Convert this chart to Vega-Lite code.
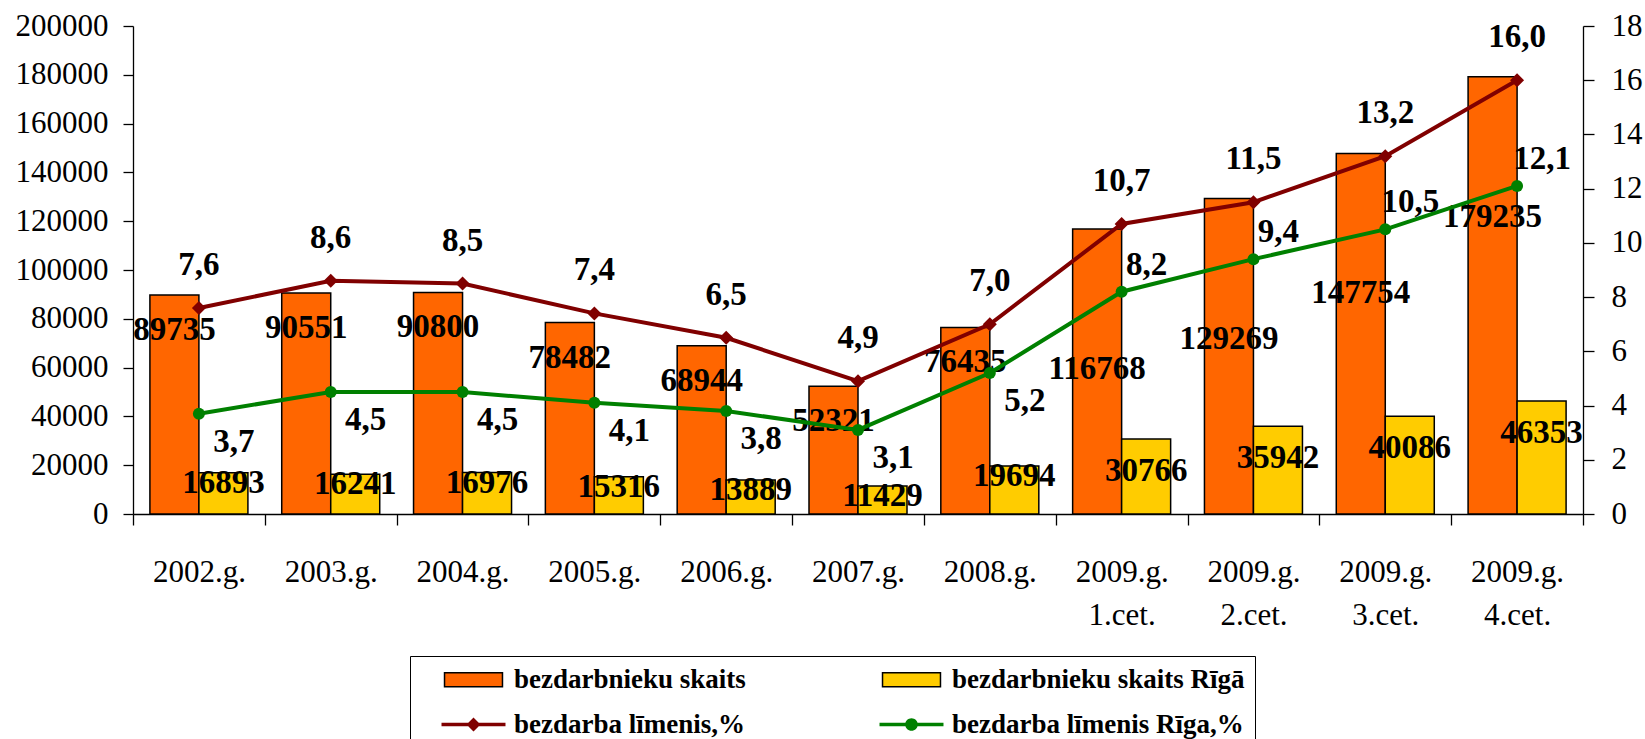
{
  "$schema": "https://vega.github.io/schema/vega-lite/v6.json",
  "width": 1450,
  "height": 488,
  "autosize": {"type": "none"},
  "padding": {"left": 133, "top": 26, "right": 62, "bottom": 225},
  "background": "white",
  "config": {
    "view": {"stroke": null},
    "font": "Liberation Serif",
    "locale": {"number": {"decimal": ",", "thousands": " ", "grouping": [3], "currency": ["", ""]}},
    "axis": {"labelFont": "Liberation Serif", "labelFontSize": 31, "labelColor": "#000", "domainColor": "#000", "tickColor": "#000", "domainWidth": 1.3, "tickWidth": 1.3, "grid": false, "title": null},
    "legend": {"symbolOpacity": 1}
  },
  "data": {"values": [
    {"cat": "2002.g.", "series": "bezdarbnieku skaits", "value": 89735},
    {"cat": "2003.g.", "series": "bezdarbnieku skaits", "value": 90551},
    {"cat": "2004.g.", "series": "bezdarbnieku skaits", "value": 90800},
    {"cat": "2005.g.", "series": "bezdarbnieku skaits", "value": 78482},
    {"cat": "2006.g.", "series": "bezdarbnieku skaits", "value": 68944},
    {"cat": "2007.g.", "series": "bezdarbnieku skaits", "value": 52321},
    {"cat": "2008.g.", "series": "bezdarbnieku skaits", "value": 76435},
    {"cat": "2009.g.|1.cet.", "series": "bezdarbnieku skaits", "value": 116768},
    {"cat": "2009.g.|2.cet.", "series": "bezdarbnieku skaits", "value": 129269},
    {"cat": "2009.g.|3.cet.", "series": "bezdarbnieku skaits", "value": 147754},
    {"cat": "2009.g.|4.cet.", "series": "bezdarbnieku skaits", "value": 179235},
    {"cat": "2002.g.", "series": "bezdarbnieku skaits Rīgā", "value": 16893},
    {"cat": "2003.g.", "series": "bezdarbnieku skaits Rīgā", "value": 16241},
    {"cat": "2004.g.", "series": "bezdarbnieku skaits Rīgā", "value": 16976},
    {"cat": "2005.g.", "series": "bezdarbnieku skaits Rīgā", "value": 15316},
    {"cat": "2006.g.", "series": "bezdarbnieku skaits Rīgā", "value": 13889},
    {"cat": "2007.g.", "series": "bezdarbnieku skaits Rīgā", "value": 11429},
    {"cat": "2008.g.", "series": "bezdarbnieku skaits Rīgā", "value": 19694},
    {"cat": "2009.g.|1.cet.", "series": "bezdarbnieku skaits Rīgā", "value": 30766},
    {"cat": "2009.g.|2.cet.", "series": "bezdarbnieku skaits Rīgā", "value": 35942},
    {"cat": "2009.g.|3.cet.", "series": "bezdarbnieku skaits Rīgā", "value": 40086},
    {"cat": "2009.g.|4.cet.", "series": "bezdarbnieku skaits Rīgā", "value": 46353},
    {"cat": "2002.g.", "series": "bezdarba līmenis,%", "value": 7.6},
    {"cat": "2003.g.", "series": "bezdarba līmenis,%", "value": 8.6},
    {"cat": "2004.g.", "series": "bezdarba līmenis,%", "value": 8.5},
    {"cat": "2005.g.", "series": "bezdarba līmenis,%", "value": 7.4},
    {"cat": "2006.g.", "series": "bezdarba līmenis,%", "value": 6.5},
    {"cat": "2007.g.", "series": "bezdarba līmenis,%", "value": 4.9},
    {"cat": "2008.g.", "series": "bezdarba līmenis,%", "value": 7.0},
    {"cat": "2009.g.|1.cet.", "series": "bezdarba līmenis,%", "value": 10.7},
    {"cat": "2009.g.|2.cet.", "series": "bezdarba līmenis,%", "value": 11.5},
    {"cat": "2009.g.|3.cet.", "series": "bezdarba līmenis,%", "value": 13.2},
    {"cat": "2009.g.|4.cet.", "series": "bezdarba līmenis,%", "value": 16.0},
    {"cat": "2002.g.", "series": "bezdarba līmenis Rīga,%", "value": 3.7},
    {"cat": "2003.g.", "series": "bezdarba līmenis Rīga,%", "value": 4.5},
    {"cat": "2004.g.", "series": "bezdarba līmenis Rīga,%", "value": 4.5},
    {"cat": "2005.g.", "series": "bezdarba līmenis Rīga,%", "value": 4.1},
    {"cat": "2006.g.", "series": "bezdarba līmenis Rīga,%", "value": 3.8},
    {"cat": "2007.g.", "series": "bezdarba līmenis Rīga,%", "value": 3.1},
    {"cat": "2008.g.", "series": "bezdarba līmenis Rīga,%", "value": 5.2},
    {"cat": "2009.g.|1.cet.", "series": "bezdarba līmenis Rīga,%", "value": 8.2},
    {"cat": "2009.g.|2.cet.", "series": "bezdarba līmenis Rīga,%", "value": 9.4},
    {"cat": "2009.g.|3.cet.", "series": "bezdarba līmenis Rīga,%", "value": 10.5},
    {"cat": "2009.g.|4.cet.", "series": "bezdarba līmenis Rīga,%", "value": 12.1}
  ]},
  "encoding": {
    "x": {
      "field": "cat", "type": "nominal",
      "scale": {"domain": ["2002.g.", "2003.g.", "2004.g.", "2005.g.", "2006.g.", "2007.g.", "2008.g.", "2009.g.|1.cet.", "2009.g.|2.cet.", "2009.g.|3.cet.", "2009.g.|4.cet."], "paddingInner": 0, "paddingOuter": 0},
      "axis": {"tickBand": "extent", "tickSize": 11, "labelPadding": 32, "labelLineHeight": 43, "labelAngle": 0, "labelBaseline": "top", "labelExpr": "split(datum.label, '|')", "labelLimit": 300}
    }
  },
  "layer": [
    {
      "encoding": {
        "y": {"field": "value", "type": "quantitative", "scale": {"domain": [0, 200000], "nice": false, "zero": true},
              "axis": {"orient": "left", "values": [0, 20000, 40000, 60000, 80000, 100000, 120000, 140000, 160000, 180000, 200000], "format": "d", "tickSize": 10, "labelPadding": 15}},
        "xOffset": {"field": "series", "type": "nominal", "scale": {"domain": ["bezdarbnieku skaits", "bezdarbnieku skaits Rīgā"], "paddingInner": 0, "paddingOuter": 0.345}}
      },
      "layer": [
        {
          "transform": [{"filter": "indexof(datum.series, 'skaits') >= 0"}],
          "mark": {"type": "bar", "strokeWidth": 1.5},
          "encoding": {
            "color": {
              "field": "series", "type": "nominal",
              "scale": {"domain": ["bezdarbnieku skaits", "bezdarbnieku skaits Rīgā", "bezdarba līmenis,%", "bezdarba līmenis Rīga,%"], "range": ["#FF6600", "#FFCC00", "#800000", "#008000"]},
              "legend": {
                "title": null, "orient": "none", "legendX": 277, "legendY": 630, "direction": "horizontal", "columns": 2,
                "columnPadding": 112, "rowPadding": 17, "padding": 10, "strokeColor": "#000",
                "symbolSize": 196, "symbolStrokeWidth": 1.5, "symbolOffset": 40, "labelOffset": 27,
                "labelFont": "Liberation Serif", "labelFontSize": 27, "labelFontWeight": "bold", "labelColor": "#000", "labelLimit": 600
              }
            },
            "stroke": {
              "field": "series", "type": "nominal",
              "scale": {"domain": ["bezdarbnieku skaits", "bezdarbnieku skaits Rīgā", "bezdarba līmenis,%", "bezdarba līmenis Rīga,%"], "range": ["#000000", "#000000", "transparent", "transparent"]},
              "legend": {
                "title": null, "orient": "none", "legendX": 277, "legendY": 630, "direction": "horizontal", "columns": 2,
                "columnPadding": 112, "rowPadding": 17, "padding": 10, "strokeColor": "#000",
                "symbolSize": 196, "symbolStrokeWidth": 1.5, "symbolOffset": 40, "labelOffset": 27,
                "labelFont": "Liberation Serif", "labelFontSize": 27, "labelFontWeight": "bold", "labelColor": "#000", "labelLimit": 600
              }
            }
          }
        },
        {
          "transform": [{"filter": "datum.series === 'bezdarbnieku skaits' && indexof(datum.cat, '|') < 0"}],
          "mark": {"type": "text", "font": "Liberation Serif", "fontWeight": "bold", "fontSize": 33, "baseline": "middle", "dy": 35, "color": "#000"},
          "encoding": {"text": {"field": "value", "type": "quantitative", "format": "d"}}
        },
        {
          "transform": [{"filter": "datum.series === 'bezdarbnieku skaits' && indexof(datum.cat, '|') >= 0"}],
          "mark": {"type": "text", "font": "Liberation Serif", "fontWeight": "bold", "fontSize": 33, "baseline": "middle", "dy": 140, "color": "#000"},
          "encoding": {"text": {"field": "value", "type": "quantitative", "format": "d"}}
        },
        {
          "transform": [{"filter": "datum.series === 'bezdarbnieku skaits Rīgā' && indexof(datum.cat, '|') < 0"}],
          "mark": {"type": "text", "font": "Liberation Serif", "fontWeight": "bold", "fontSize": 33, "baseline": "middle", "dy": 10, "color": "#000"},
          "encoding": {"text": {"field": "value", "type": "quantitative", "format": "d"}}
        },
        {
          "transform": [{"filter": "datum.series === 'bezdarbnieku skaits Rīgā' && indexof(datum.cat, '|') >= 0"}],
          "mark": {"type": "text", "font": "Liberation Serif", "fontWeight": "bold", "fontSize": 33, "baseline": "middle", "dy": 32, "color": "#000"},
          "encoding": {"text": {"field": "value", "type": "quantitative", "format": "d"}}
        }
      ]
    },
    {
      "encoding": {
        "y": {"field": "value", "type": "quantitative", "scale": {"domain": [0, 18], "nice": false, "zero": true},
              "axis": {"orient": "right", "values": [0, 2, 4, 6, 8, 10, 12, 14, 16, 18], "format": "d", "tickSize": 11, "labelPadding": 17}}
      },
      "layer": [
        {
          "transform": [{"filter": "indexof(datum.series, 'līmenis') >= 0"}],
          "mark": {"type": "point", "opacity": 0, "filled": true},
          "encoding": {
            "shape": {
              "field": "series", "type": "nominal",
              "scale": {"domain": ["bezdarbnieku skaits", "bezdarbnieku skaits Rīgā", "bezdarba līmenis,%", "bezdarba līmenis Rīga,%"],
                        "range": ["M-4.14,-1H4.14V1H-4.14Z", "M-4.14,-1H4.14V1H-4.14Z", "M-4.57,-0.25H4.57V0.25H-4.57Z M0,-1L1,0L0,1L-1,0Z", "M-4.57,-0.25H4.57V0.25H-4.57Z M0.9,0A0.9,0.9 0 1,1 -0.9,0A0.9,0.9 0 1,1 0.9,0Z"]},
              "legend": {
                "title": null, "orient": "none", "legendX": 277, "legendY": 630, "direction": "horizontal", "columns": 2,
                "columnPadding": 112, "rowPadding": 17, "padding": 10, "strokeColor": "#000",
                "symbolSize": 196, "symbolStrokeWidth": 1.5, "symbolOffset": 40, "labelOffset": 27,
                "labelFont": "Liberation Serif", "labelFontSize": 27, "labelFontWeight": "bold", "labelColor": "#000", "labelLimit": 600
              }
            }
          }
        },
        {
          "transform": [{"filter": "datum.series === 'bezdarba līmenis,%'"}],
          "mark": {"type": "line", "color": "#800000", "strokeWidth": 4, "point": {"shape": "diamond", "size": 196, "filled": true, "color": "#800000"}}
        },
        {
          "transform": [{"filter": "datum.series === 'bezdarba līmenis Rīga,%'"}],
          "mark": {"type": "line", "color": "#008000", "strokeWidth": 4, "point": {"shape": "circle", "size": 144, "filled": true, "color": "#008000"}}
        },
        {
          "transform": [{"filter": "datum.series === 'bezdarba līmenis,%'"}],
          "mark": {"type": "text", "font": "Liberation Serif", "fontWeight": "bold", "fontSize": 33, "baseline": "middle", "dy": -43, "color": "#000"},
          "encoding": {"text": {"field": "value", "type": "quantitative", "format": ".1f"}}
        },
        {
          "transform": [{"filter": "datum.series === 'bezdarba līmenis Rīga,%' && indexof(datum.cat, '|') < 0"}],
          "mark": {"type": "text", "font": "Liberation Serif", "fontWeight": "bold", "fontSize": 33, "baseline": "middle", "dx": 35, "dy": 28, "color": "#000"},
          "encoding": {"text": {"field": "value", "type": "quantitative", "format": ".1f"}}
        },
        {
          "transform": [{"filter": "datum.series === 'bezdarba līmenis Rīga,%' && indexof(datum.cat, '|') >= 0"}],
          "mark": {"type": "text", "font": "Liberation Serif", "fontWeight": "bold", "fontSize": 33, "baseline": "middle", "dx": 25, "dy": -27, "color": "#000"},
          "encoding": {"text": {"field": "value", "type": "quantitative", "format": ".1f"}}
        }
      ]
    }
  ],
  "resolve": {"scale": {"y": "independent"}}
}
